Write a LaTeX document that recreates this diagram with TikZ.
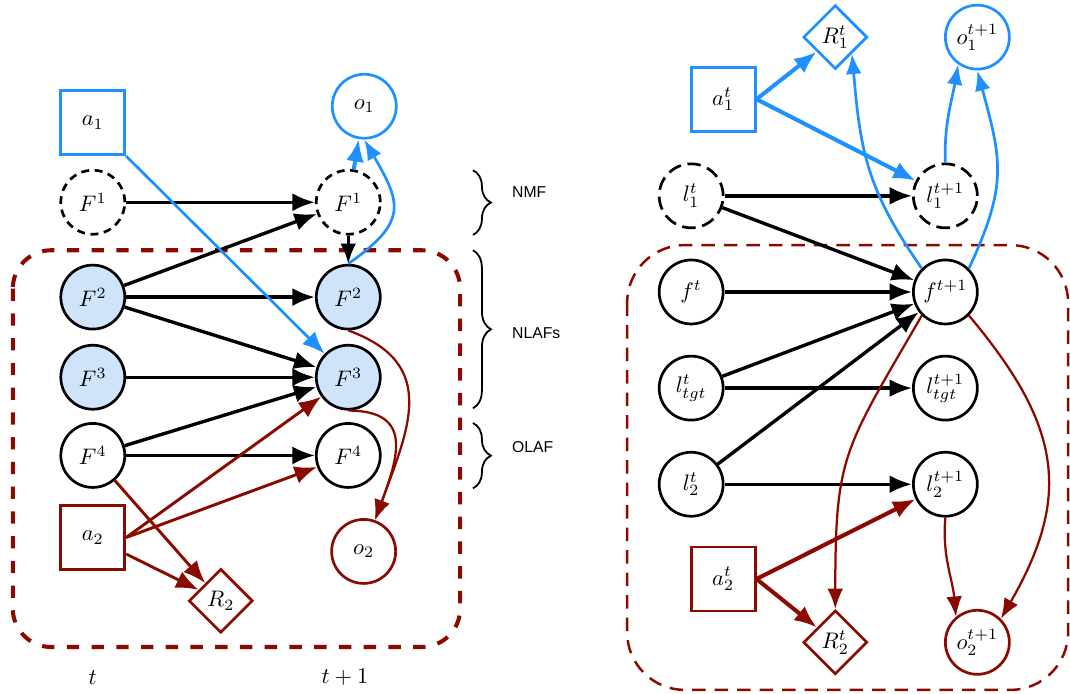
\documentclass[tikz,border=0pt]{standalone}
\usepackage{amsmath,amssymb}
\usepackage{fontspec}
\newfontfamily\labelfont{Liberation Sans}
\usepackage{tikz}
\usetikzlibrary{shapes,arrows.meta,positioning,calc,decorations.pathreplacing}
\definecolor{agentblue}{RGB}{30,144,255}
\definecolor{agentred}{RGB}{139,10,0}
\definecolor{nlafblue}{RGB}{207,228,250}

\begin{document}
\begin{tikzpicture}[
    var/.style={draw, circle, very thick, minimum size=1cm, inner sep=0.5pt},
    hid/.style={var, dash pattern=on 3.5pt off 2.5pt},
    nlaf/.style={var, fill=nlafblue},
    act/.style={draw, rectangle, very thick, minimum size=1cm},
    rew/.style={draw, diamond, very thick, minimum size=1cm, inner sep=0pt},
    arr/.style={-{Latex[length=10pt,width=8pt]}, line width=1.5pt},
    barr/.style={arr, agentblue, line width=1.2pt},
    rarr/.style={arr, agentred, line width=1.3pt},
    curv/.style={-{Latex[length=9pt,width=7pt]}, line width=1pt},
    plate/.style={draw=agentred, rounded corners=0.6cm},
    tag/.style={font=\labelfont\fontsize{7}{8}\selectfont, anchor=west},
    grp/.style={decorate, decoration={brace, amplitude=8pt}, thick},
  ]
  \useasboundingbox (0,0) rectangle (16.72,-10.84);

  % left: factored model, slices t and t+1
  \node[hid] (F1a) at (1.45,-3.16) {$F^1$};
  \node[hid, right=2.95cm of F1a] (F1b) {$F^1$};
  \node[nlaf, below=0.44cm of F1a] (F2a) {$F^2$};
  \node[nlaf, below=0.44cm of F1b] (F2b) {$F^2$};
  \node[nlaf, below=0.21cm of F2a] (F3a) {$F^3$};
  \node[nlaf, below=0.21cm of F2b] (F3b) {$F^3$};
  \node[var, below=0.18cm of F3a] (F4a) {$F^4$};
  \node[var, below=0.18cm of F3b] (F4b) {$F^4$};
  \node[act, draw=agentblue, above=0.2cm of F1a] (a1) {$a_1$};
  \node[act, draw=agentred, below=0.24cm of F4a] (a2) {$a_2$};
  \node[var, draw=agentblue] (o1) at ($(F1b)+(0.25,1.5)$) {$o_1$};
  \node[var, draw=agentred] (o2) at ($(F4b)+(0.24,-1.5)$) {$o_2$};
  \node[rew, draw=agentred] (R2) at ($(a2)+(2,-0.99)$) {$R_2$};
  \node (tl) at (1.45,-10.58) {$t$};
  \node (tr) at (5.39,-10.58) {$t+1$};

  \draw[plate, line width=1.8pt, dash pattern=on 5.5pt off 5.5pt]
    (0.20,-3.91) rectangle (7.19,-10.11);

  \draw[arr] (F1a) -- (F1b);
  \draw[arr] (F2a) -- (F1b);
  \draw[arr] (F2a) -- (F2b);
  \draw[arr] (F2a) -- (F3b);
  \draw[arr] (F3a) -- (F3b);
  \draw[arr] (F4a) -- (F3b);
  \draw[arr] (F4a) -- (F4b);
  \draw[curv, line width=1.2pt] (F1b) -- (F2b);

  \draw[barr] (a1.south east) -- (F3b);
  \draw[barr, line width=1.8pt] (F1b) -- (o1);
  \draw[curv, agentblue, line width=1.2pt] (F2b.north) to[out=35, in=-60, looseness=1.5] (o1.south);

  \draw[rarr] (a2.east) -- (F3b);
  \draw[rarr] (a2.east) -- (F4b);
  \draw[rarr] (a2) -- (R2);
  \draw[rarr] (F4a) -- (R2);
  \draw[curv, agentred] (F2b.south) to[out=-20, in=70, looseness=1.3] (o2);
  \draw[curv, agentred] (F3b.south) to[out=0, in=70, looseness=1.5] (o2);

  % braces for the factor groups
  \draw[grp] (7.39,-2.66) -- (7.39,-3.67);
  \draw[grp] (7.39,-3.91) -- (7.39,-6.38);
  \draw[grp] (7.39,-6.61) -- (7.39,-7.63);
  \node[tag] (nmf) at (7.88,-3.0) {NMF};
  \node[tag] (nlafs) at (7.88,-5.2) {NLAFs};
  \node[tag] (olaf) at (7.88,-6.98) {OLAF};

  % right: two agents, slices t and t+1
  \node[hid, dash pattern=on 6pt off 3pt] (l1a) at (10.8,-3.06) {$l_1^t$};
  \node[hid, dash pattern=on 6pt off 3pt, right=2.93cm of l1a] (l1b) {$l_1^{t+1}$};
  \node[var, below=0.46cm of l1a] (fa) {$f^t$};
  \node[var, below=0.46cm of l1b] (fb) {$f^{t+1}$};
  \node[var, below=0.46cm of fa] (lga) {$l_{tgt}^t$};
  \node[var, below=0.46cm of fb] (lgb) {$l_{tgt}^{t+1}$};
  \node[var, below=0.46cm of lga] (l2a) {$l_2^t$};
  \node[var, below=0.46cm of lgb] (l2b) {$l_2^{t+1}$};
  \node[act, draw=agentblue] (a1t) at ($(l1a)+(0.5,1.51)$) {$a_1^t$};
  \node[rew, draw=agentblue] (R1t) at ($(l1b)+(-1.72,2.48)$) {$R_1^t$};
  \node[var, draw=agentblue] (o1n) at ($(l1b)+(0.5,2.48)$) {$o_1^{t+1}$};
  \node[act, draw=agentred] (a2t) at ($(l2a)+(0.5,-1.48)$) {$a_2^t$};
  \node[rew, draw=agentred] (R2t) at ($(l2b)+(-1.72,-2.47)$) {$R_2^t$};
  \node[var, draw=agentred] (o2n) at ($(l2b)+(0.5,-2.47)$) {$o_2^{t+1}$};

  \draw[plate, line width=1.1pt, rounded corners=0.9cm, dash pattern=on 6pt off 4pt]
    (9.80,-3.83) rectangle (16.69,-10.78);

  \draw[arr] (l1a) -- (l1b);
  \draw[arr] (l1a) -- (fb);
  \draw[arr] (fa) -- (fb);
  \draw[arr] (lga) -- (fb);
  \draw[arr] (lga) -- (lgb);
  \draw[arr] (l2a) -- (fb);
  \draw[arr] (l2a) -- (l2b);

  \draw[barr, line width=1.8pt] (a1t.east) -- (R1t);
  \draw[barr, line width=1.8pt] (a1t.east) -- (l1b);
  \draw[curv, agentblue, line width=1.2pt] (fb.north west) to[out=125, in=-85, looseness=1.1] (R1t.south east);
  \draw[curv, agentblue, line width=1.2pt] (l1b.north) to[out=92, in=-100] (o1n.235);
  \draw[curv, agentblue, line width=1.2pt] (fb.north east) to[out=65, in=-75, looseness=1.2] (o1n.south);

  \draw[rarr, line width=1.8pt] (a2t.east) -- (l2b);
  \draw[rarr, line width=1.8pt] (a2t.east) -- (R2t);
  \draw[curv, agentred] (fb.south west) to[out=-120, in=90, looseness=1.3] (R2t.north);
  \draw[curv, agentred] (fb.south east) to[out=-50, in=60, looseness=1.2] (o2n.45);
  \draw[curv, agentred] (l2b.south) to[out=-95, in=95] (o2n.130);
\end{tikzpicture}
\end{document}
